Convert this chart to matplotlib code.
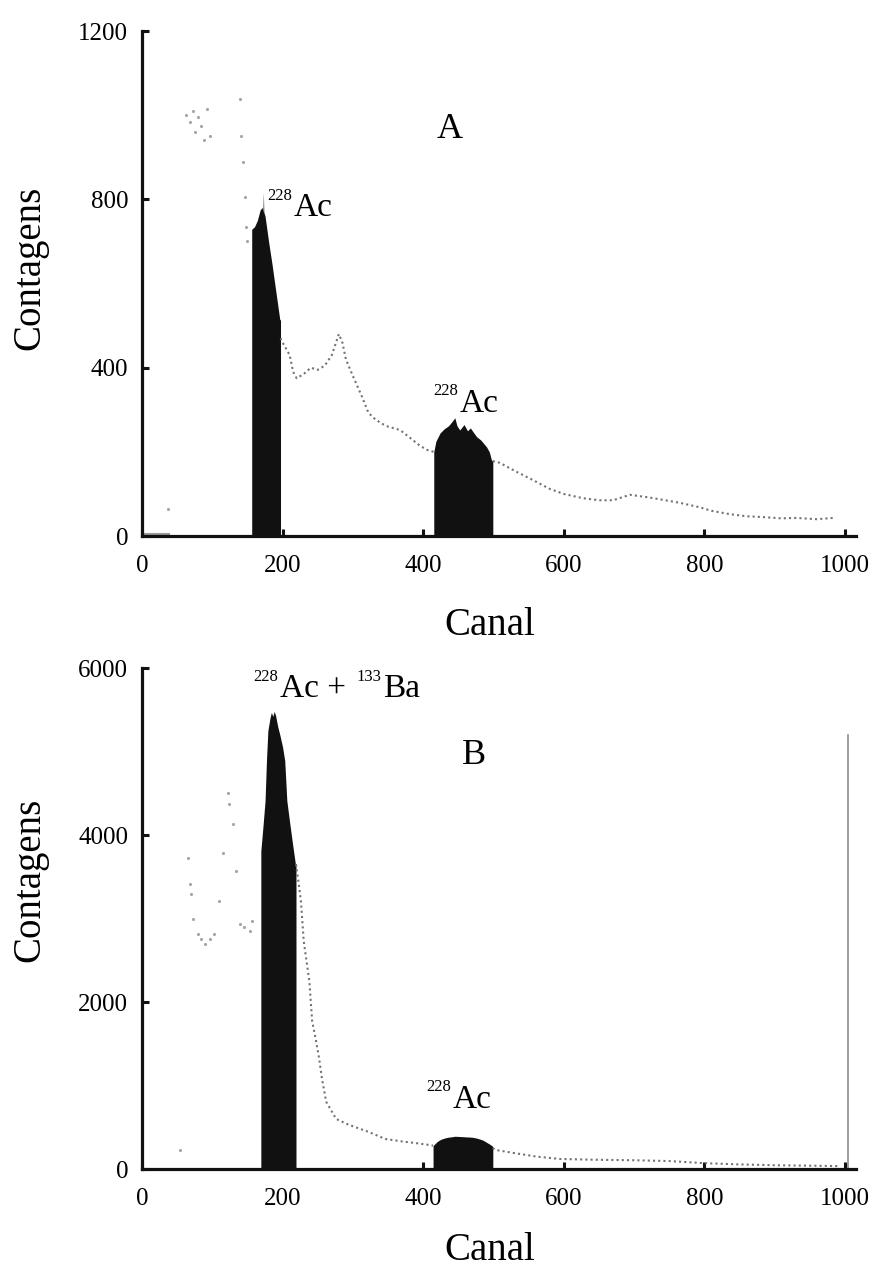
import matplotlib
matplotlib.use('Agg')
import matplotlib.pyplot as plt

plt.rcParams['font.family'] = ['Liberation Serif', 'DejaVu Serif']

# ---- panel A (counts vs channel) ----
a_peak1_ch = [156, 160, 164, 168, 171, 172, 172.6, 173.2, 175, 180, 185, 190, 196, 197]
a_peak1_cts = [729, 735, 750, 775, 781, 770, 817, 770, 760, 700, 645, 585, 514, 514]

a_peak2_ch = [415, 418, 424, 430, 436, 440, 445, 448, 452, 458, 463, 467, 472, 476, 482, 486, 490, 494, 497, 499]
a_peak2_cts = [200, 225, 245, 255, 262, 270, 281, 262, 252, 265, 250, 257, 245, 236, 228, 220, 212, 200, 181, 178]

a_low_ch = [0, 10, 20, 30, 38]
a_low_cts = [6, 6, 6, 6, 6]

a_cont_ch = [197, 200, 205, 210, 215, 220, 230, 240, 250, 260, 270, 280, 285, 290, 300, 313, 322,
             330, 340, 350, 367, 380, 395, 405, 415]
a_cont_cts = [470, 460, 445, 430, 390, 375, 385, 400, 395, 405, 430, 480, 460, 420, 380, 331, 293,
              280, 268, 260, 252, 235, 215, 205, 200]

a_tail_ch = [499, 509, 530, 556, 580, 600, 627, 650, 670, 694, 720, 741, 765, 794, 810, 836, 860,
             883, 910, 931, 960, 983]
a_tail_cts = [178, 174, 155, 133, 112, 100, 90, 85, 85, 98, 92, 86, 79, 68, 60, 52, 47,
              45, 42, 43, 40, 43]

a_noise_ch = [37, 63, 68, 72, 75, 80, 84, 88, 92, 97, 139, 141, 143, 146, 148, 150]
a_noise_cts = [65, 1000, 985, 1010, 960, 995, 975, 940, 1015, 950, 1038, 950, 888, 805, 735, 700]

# ---- panel B ----
b_peak1_ch = [169, 172, 175, 177, 179, 182, 184, 186, 188, 190, 193, 196, 200, 203, 206, 210, 214, 218, 219]
b_peak1_cts = [3810, 4100, 4410, 4890, 5250, 5400, 5470, 5420, 5480, 5430, 5300, 5200, 5050, 4890,
               4410, 4150, 3900, 3660, 3660]

b_peak2_ch = [414, 420, 425, 430, 435, 440, 445, 450, 455, 460, 465, 470, 475, 480, 485, 490, 495, 499]
b_peak2_cts = [280, 330, 355, 370, 380, 385, 392, 390, 388, 385, 383, 380, 372, 360, 345, 320, 295, 270]

b_cont_ch = [219, 223, 226, 230, 238, 242, 247, 252, 256, 262, 276, 294, 322, 346, 370, 390, 407, 414]
b_cont_cts = [3650, 3410, 3210, 2730, 2250, 1770, 1560, 1320, 1080, 805, 600, 530, 445, 360, 330,
              310, 290, 280]

b_tail_ch = [499, 502, 530, 560, 595, 650, 700, 750, 800, 850, 900, 950, 990]
b_tail_cts = [250, 230, 190, 150, 120, 110, 105, 95, 70, 55, 45, 40, 35]

b_noise_ch = [54, 65, 68, 69, 72, 79, 84, 89, 96, 103, 110, 115, 122, 124, 129, 134, 139, 145, 153, 157]
b_noise_cts = [230, 3730, 3410, 3290, 3000, 2810, 2750, 2690, 2750, 2810, 3210, 3790, 4500, 4375, 4135,
               3570, 2930, 2900, 2850, 2970]

b_edge_ch = [1004, 1004]
b_edge_cts = [0, 5200]

FILL = '#111111'
DOTS = '0.45'


def isotope(ax, x, y, mass, elem, size=24):
    ax.text(x, y, elem, fontsize=size, ha='left', va='baseline')
    ax.annotate(mass, xy=(x, y), xytext=(-1, 12), textcoords='offset points',
                fontsize=12, ha='right', va='baseline')


def style(ax, ymax, yticks):
    ax.set_xlim(0, 1015)
    ax.set_ylim(0, ymax)
    ax.set_xticks([0, 200, 400, 600, 800, 1000])
    ax.set_yticks(yticks)
    for s in ('top', 'right'):
        ax.spines[s].set_visible(False)
    for s in ('left', 'bottom'):
        ax.spines[s].set_linewidth(2.3)
        ax.spines[s].set_color('#111111')
    ax.tick_params(direction='in', length=5, width=2.2, labelsize=18, color='#111111')
    ax.tick_params(axis='x', pad=14)
    ax.tick_params(axis='y', pad=10)
    ax.set_xlabel('Canal', fontsize=28)
    ax.set_ylabel('Contagens', fontsize=28)


fig = plt.figure(figsize=(8.85, 12.79), dpi=100)

# panel A
ax1 = fig.add_axes([0.1605, 0.5809, 0.8062, 0.3948])
ax1.plot(a_noise_ch, a_noise_cts, ls='none', marker='.', ms=2.5, color='0.65')
ax1.plot(a_low_ch, a_low_cts, color='0.6', lw=1.5)
ax1.plot(a_cont_ch, a_cont_cts, ls=(0, (1, 1.5)), color=DOTS, lw=1.5)
ax1.plot(a_tail_ch, a_tail_cts, ls=(0, (1, 1.5)), color=DOTS, lw=1.5)
ax1.fill_between(a_peak1_ch, 0, a_peak1_cts, color=FILL, lw=0)
ax1.fill_between(a_peak2_ch, 0, a_peak2_cts, color=FILL, lw=0)
style(ax1, 1200, [0, 400, 800, 1200])
ax1.xaxis.set_label_coords(0.488, -0.141)
ax1.yaxis.set_label_coords(-0.131, 0.531)
ax1.text(437, 946, 'A', fontsize=26, ha='center', va='baseline')
isotope(ax1, 215, 760, '228', 'Ac')
isotope(ax1, 452, 295, '228', 'Ac')

# panel B
ax2 = fig.add_axes([0.1605, 0.0860, 0.8062, 0.3917])
ax2.plot(b_noise_ch, b_noise_cts, ls='none', marker='.', ms=2.5, color='0.65')
ax2.plot(b_cont_ch, b_cont_cts, ls=(0, (1, 1.5)), color=DOTS, lw=1.5)
ax2.plot(b_tail_ch, b_tail_cts, ls=(0, (1, 1.5)), color=DOTS, lw=1.5)
ax2.plot(b_edge_ch, b_edge_cts, color='0.55', lw=1.2)
ax2.fill_between(b_peak1_ch, 0, b_peak1_cts, color=FILL, lw=0)
ax2.fill_between(b_peak2_ch, 0, b_peak2_cts, color=FILL, lw=0)
style(ax2, 6000, [0, 2000, 4000, 6000])
ax2.xaxis.set_label_coords(0.488, -0.126)
ax2.yaxis.set_label_coords(-0.131, 0.577)
ax2.text(472, 4850, 'B', fontsize=26, ha='center', va='baseline')
isotope(ax2, 196, 5650, '228', 'Ac +')
isotope(ax2, 343, 5650, '133', 'Ba')
isotope(ax2, 442, 730, '228', 'Ac')

fig.savefig('out.png', dpi=100)
